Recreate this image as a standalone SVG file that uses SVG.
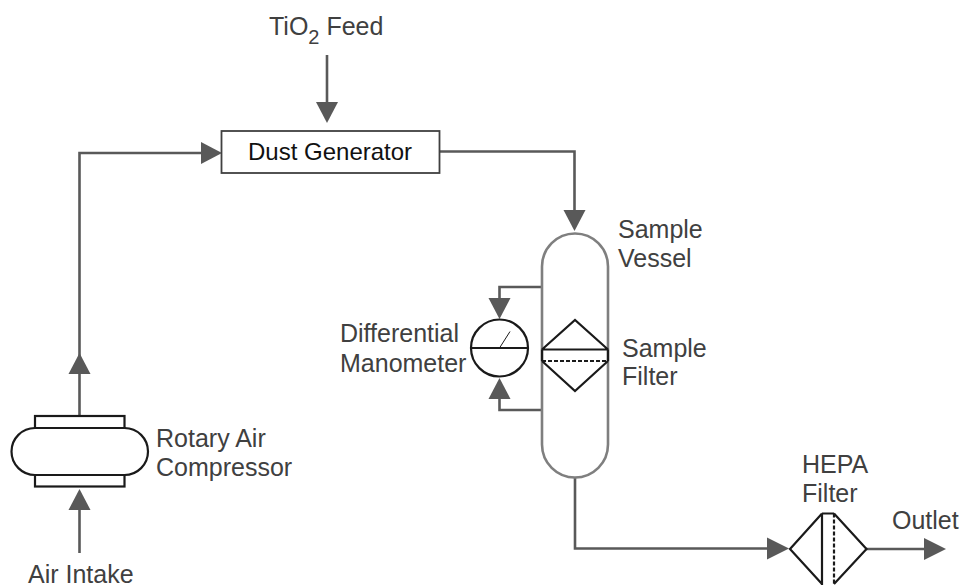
<svg xmlns="http://www.w3.org/2000/svg" width="962" height="585" viewBox="0 0 962 585">
<style>
text{font-family:"Liberation Sans",Arial,sans-serif;font-size:25px;fill:#404040}
.c{fill:none;stroke:#595959;stroke-width:2.6}
.k{fill:#fff;stroke:#1a1a1a;stroke-width:2.2}
.ln{fill:none;stroke:#1a1a1a;stroke-width:2.2}
.v{fill:#fff;stroke:#7f7f7f;stroke-width:2.6}
.a{fill:#595959}
</style>
<rect width="962" height="585" fill="#fff"/>
<g id="connectors">
<path class="c" d="M327 55V104"/><path class="a" d="M316 102H338L327 123Z"/>
<path class="c" d="M79.500 415V153H203"/><path class="a" d="M68.500 374H90.500L79.500 353Z"/><path class="a" d="M201 142V164L222 153Z"/>
<path class="c" d="M439 151.500H574.500V212"/><path class="a" d="M563.500 210H585.500L574.500 231Z"/>
<path class="c" d="M79.500 553V508"/><path class="a" d="M68.500 510H90.500L79.500 489Z"/>
<path class="c" d="M542 287H499.500V300"/><path class="a" d="M488.500 298H510.500L499.500 319Z"/>
<path class="c" d="M542 410H499.500V397"/><path class="a" d="M488.500 399H510.500L499.500 378Z"/>
<path class="c" d="M575 477V548.500H770"/><path class="a" d="M767 537.500V559.500L789 548.500Z"/>
<path class="c" d="M866 549H926"/><path class="a" d="M924 538V560L946 549Z"/>
</g>
<g id="dust-generator"><rect x="221.500" y="131" width="218" height="42" fill="#fff" stroke="#404040" stroke-width="1.800"/><text x="248" y="159.500" style="fill:#111;font-size:24px">Dust Generator</text></g>
<g id="tio2-feed"><text x="269" y="35">TiO<tspan dy="8.500" style="font-size:20px">2</tspan><tspan dy="-8.500"> Feed</tspan></text></g>
<g id="sample-vessel"><rect class="v" x="542" y="233.500" width="66" height="244" rx="33" ry="33"/><text x="618" y="238">Sample</text><text x="618" y="267">Vessel</text></g>
<g id="sample-filter">
<path class="ln" d="M542 349.500L575 320L608 349.500M542 361L575 391L608 361M542 349.500H608M542 349.500V361M608 349.500V361"/>
<path class="ln" d="M542 361H608" stroke-dasharray="4 2"/>
<text x="622" y="357">Sample</text><text x="622" y="385">Filter</text></g>
<g id="differential-manometer"><circle class="k" cx="499.500" cy="348" r="28.500"/><path class="ln" d="M471 348H528"/><path d="M499.500 348L510 331.500" fill="none" stroke="#1a1a1a" stroke-width="1"/><text x="340" y="342">Differential</text><text x="340" y="372">Manometer</text></g>
<g id="rotary-air-compressor"><rect class="k" x="35" y="416" width="89.500" height="70.500"/><rect class="k" x="11.500" y="428" width="136.500" height="47" rx="23.500" ry="23.500"/><text x="156" y="447">Rotary Air</text><text x="156" y="476">Compressor</text></g>
<g id="air-intake"><text x="28" y="582.500">Air Intake</text></g>
<g id="hepa-filter">
<path class="ln" d="M822 513.500L790 549L822 584M834 513.500L866.500 549L834 584M822 513.500H834M822 513.500V585"/>
<path class="ln" d="M834 513.500V585" stroke-dasharray="4 2"/>
<text x="802" y="473">HEPA</text><text x="802" y="502">Filter</text></g>
<g id="outlet"><text x="892" y="529">Outlet</text></g>
</svg>
